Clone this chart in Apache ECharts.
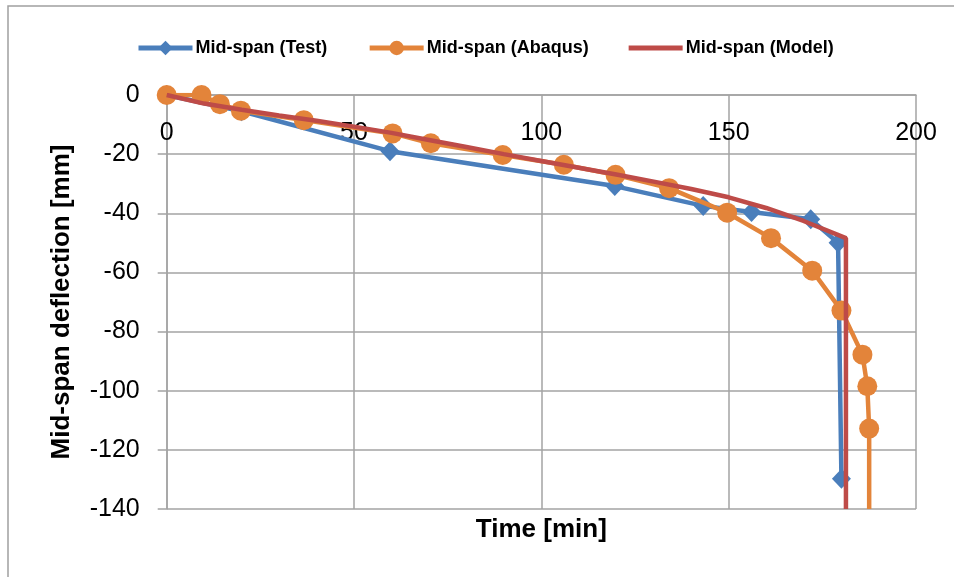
<!DOCTYPE html>
<html>
<head>
<meta charset="utf-8">
<script src="https://cdn.jsdelivr.net/npm/echarts@6/dist/echarts.min.js"></script>
<style>
  html, body { margin: 0; padding: 0; background: #fff; }
  #chart { width: 954px; height: 577px; }
</style>
</head>
<body>
<div id="chart"></div>
<script>
// 数据
var testData = [[0, 0], [20, -5.5], [59.6, -19], [119.6, -30.8], [143.2, -37.5], [156.1, -39.6], [171.9, -42], [179.2, -50], [180.1, -129.8]]
var abaqusData = [[0, 0], [9.3, 0], [14.2, -3.1], [19.8, -5.3], [36.6, -8.5], [60.3, -13], [70.5, -16.3], [89.7, -20.3], [106, -23.6], [119.8, -27], [134.1, -31.5], [149.6, -39.8], [161.3, -48.4], [172.3, -59.4], [180.1, -72.9], [185.7, -87.8], [187, -98.5], [187.5, -112.8], [187.5, -140]]
var modelData = [[0, 0], [10, -2.9], [20, -5], [30, -6.9], [40, -8.7], [50, -10.7], [60, -12.8], [70, -15.2], [80, -17.6], [90, -20], [100, -22.3], [110, -24.6], [120, -26.9], [130, -29.3], [140, -31.8], [150, -34.6], [160, -38.2], [170, -42.6], [181.3, -48.4], [181.3, -140]]
var xTicks = [0, 200, 50]   // min, max, interval
var yTicks = [-140, 0, 20]

var FONT = "'Liberation Sans', Arial, sans-serif"
var GRID_COLOR = '#a3a3a3'

var myChart = echarts.init(document.getElementById('chart'))

// 最后一个点不画标记
var abaqusSeries = abaqusData.map(function (p, i) {
  if (i === abaqusData.length - 1) {
    return { value: p, symbol: 'none' }
  }
  return p
})

var options = {
  animation: false,
  backgroundColor: '#fff',
  textStyle: { fontFamily: FONT },
  graphic: [
    {
      type: 'rect',
      shape: { x: 8, y: 6, width: 1200, height: 1000 },
      style: { fill: 'none', stroke: '#a0a0a0', lineWidth: 1.5 },
      silent: true,
    },
  ],
  legend: {
    left: 131,
    top: 34,
    itemWidth: 54,
    itemHeight: 18,
    itemGap: 40,
    lineStyle: { width: 5 },
    textStyle: {
      fontFamily: FONT,
      fontSize: 18,
      fontWeight: 'bold',
      color: '#000',
      padding: [0, 0, 0, -2],
    },
    data: [
      'Mid-span (Test)',
      'Mid-span (Abaqus)',
      { name: 'Mid-span (Model)', icon: 'path://M0,0L54,0L54,5L0,5Z' },
    ],
  },
  grid: {
    left: 166.7,
    right: 38,
    top: 95,
    bottom: 68,
    containLabel: false,
    outerBoundsMode: 'none',
  },
  xAxis: [
    {
      // 刻度标签在 y=0 线下方
      type: 'value',
      position: 'top',
      min: xTicks[0],
      max: xTicks[1],
      interval: xTicks[2],
      axisLine: {
        show: true,
        lineStyle: { color: GRID_COLOR, width: 1.5 },
      },
      axisTick: { show: false },
      axisLabel: {
        inside: true,
        margin: 26,
        fontFamily: FONT,
        fontSize: 25,
        color: '#000',
        showMinLabel: true,
        showMaxLabel: true,
      },
      splitLine: {
        show: true,
        lineStyle: { color: GRID_COLOR, width: 1.5 },
      },
    },
    {
      // 只用来放轴名
      type: 'value',
      position: 'bottom',
      min: xTicks[0],
      max: xTicks[1],
      interval: xTicks[2],
      name: 'Time [min]',
      nameLocation: 'middle',
      nameGap: 8,
      nameTextStyle: {
        fontFamily: FONT,
        fontSize: 26,
        fontWeight: 'bold',
        color: '#000',
      },
      axisLine: { show: false },
      axisTick: { show: false },
      axisLabel: { show: false },
      splitLine: { show: false },
    },
  ],
  yAxis: {
    type: 'value',
    min: yTicks[0],
    max: yTicks[1],
    interval: yTicks[2],
    name: 'Mid-span deflection [mm]',
    nameLocation: 'middle',
    nameGap: 92,
    nameTextStyle: {
      fontFamily: FONT,
      fontSize: 26,
      fontWeight: 'bold',
      color: '#000',
    },
    axisLine: {
      show: true,
      onZero: false,
      lineStyle: { color: GRID_COLOR, width: 1.5 },
    },
    axisTick: {
      show: true,
      length: 9,
      lineStyle: { color: GRID_COLOR, width: 1.5 },
    },
    axisLabel: {
      margin: 27,
      fontFamily: FONT,
      fontSize: 25,
      color: '#000',
    },
    splitLine: {
      show: true,
      lineStyle: { color: GRID_COLOR, width: 1.5 },
    },
  },
  series: [
    {
      name: 'Mid-span (Test)',
      type: 'line',
      data: testData,
      symbol: 'diamond',
      symbolSize: [19, 20],
      color: '#4A7EBB',
      lineStyle: { width: 4.5, color: '#4A7EBB' },
      itemStyle: { color: '#4A7EBB' },
      z: 2,
    },
    {
      name: 'Mid-span (Abaqus)',
      type: 'line',
      data: abaqusSeries,
      symbol: 'circle',
      symbolSize: 20,
      color: '#E3843A',
      lineStyle: { width: 4.5, color: '#E3843A' },
      itemStyle: { color: '#E3843A' },
      z: 3,
    },
    {
      name: 'Mid-span (Model)',
      type: 'line',
      data: modelData,
      symbol: 'none',
      color: '#BE4B48',
      lineStyle: { width: 4.5, color: '#BE4B48' },
      itemStyle: { color: '#BE4B48' },
      z: 4,
    },
  ],
}
myChart.setOption(options)
</script>
</body>
</html>
